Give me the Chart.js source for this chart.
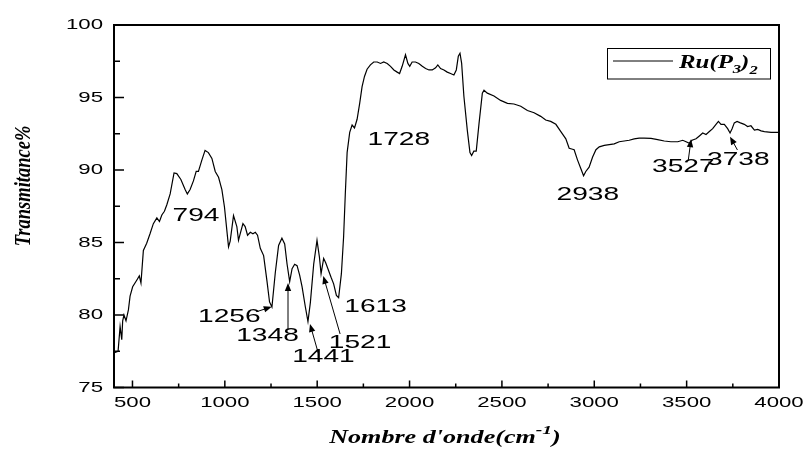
<!DOCTYPE html>
<html>
<head>
<meta charset="utf-8">
<script src="https://cdn.jsdelivr.net/npm/chart.js@4.4.0/dist/chart.umd.min.js"></script>
<style>
  html, body { margin: 0; padding: 0; background: #fff; }
  #wrap { width: 808px; height: 454px; position: relative; }
</style>
</head>
<body>
<div id="wrap"><canvas id="ir"></canvas></div>
<script>
// IR spectrum
const waveNumbers = [
  402, 422, 433, 442, 447, 454, 465, 478, 487, 501, 523, 537, 546, 559, 577, 595, 613, 632, 646, 659,
  673, 686, 704, 725, 740, 762, 785, 797, 812, 830, 845, 857, 876, 893, 911, 930, 948, 966, 984, 998,
  1020, 1029, 1047, 1065, 1074, 1083, 1098, 1110, 1123, 1138, 1152, 1165, 1177, 1192, 1210, 1228, 1242, 1255, 1273, 1291,
  1309, 1324, 1337, 1351, 1364, 1378, 1391, 1405, 1418, 1436, 1450, 1463, 1481, 1499, 1512, 1521, 1535, 1546, 1562, 1575,
  1589, 1604, 1616, 1631, 1643, 1652, 1662, 1676, 1689, 1702, 1716, 1730, 1743, 1756, 1770, 1788, 1806, 1825, 1843, 1860,
  1879, 1897, 1915, 1933, 1946, 1960, 1978, 1991, 2001, 2014, 2032, 2050, 2069, 2087, 2105, 2123, 2141, 2153, 2168, 2186,
  2204, 2222, 2240, 2253, 2264, 2273, 2282, 2294, 2313, 2327, 2336, 2348, 2361, 2376, 2394, 2403, 2421, 2457, 2493, 2530,
  2565, 2602, 2638, 2674, 2710, 2737, 2764, 2792, 2819, 2846, 2864, 2878, 2891, 2909, 2927, 2942, 2954, 2972, 2991, 3009,
  3027, 3054, 3081, 3108, 3135, 3162, 3189, 3216, 3243, 3270, 3307, 3343, 3379, 3415, 3452, 3479, 3497, 3515, 3529, 3551,
  3569, 3587, 3605, 3623, 3641, 3659, 3672, 3686, 3704, 3722, 3735, 3746, 3758, 3773, 3791, 3812, 3830, 3848, 3867, 3885,
  3903, 3921, 3957, 3993, 4000
];
const transmittance = [
  77.4, 77.5, 79.2, 78.3, 79.6, 80.0, 79.6, 80.35, 81.3, 81.95, 82.4, 82.7, 82.2, 84.45, 84.95, 85.6, 86.3, 86.7, 86.45, 86.9,
  87.15, 87.6, 88.35, 89.8, 89.75, 89.35, 88.65, 88.35, 88.65, 89.25, 89.9, 89.9, 90.7, 91.35, 91.2, 90.8, 89.9, 89.5, 88.65, 87.45,
  84.7, 85.1, 86.85, 86.1, 85.15, 85.6, 86.3, 86.1, 85.5, 85.7, 85.6, 85.7, 85.5, 84.6, 84.1, 82.35, 80.9, 80.55, 82.9, 84.8,
  85.3, 84.9, 83.5, 82.3, 83.2, 83.5, 83.4, 82.75, 81.95, 80.55, 79.55, 80.85, 83.5, 85.15, 84.0, 82.85, 83.9, 83.6, 83.05, 82.6,
  82.15, 81.35, 81.2, 82.85, 85.4, 88.3, 91.2, 92.6, 93.1, 92.9, 93.5, 94.6, 95.75, 96.45, 96.95, 97.25, 97.45, 97.45, 97.35, 97.45,
  97.35, 97.15, 96.9, 96.75, 96.65, 97.15, 97.95, 97.35, 97.15, 97.45, 97.45, 97.35, 97.15, 97.0, 96.9, 96.9, 97.05, 97.25, 97.0, 96.9,
  96.75, 96.65, 96.55, 96.9, 97.85, 98.05, 97.35, 95.1, 92.7, 91.2, 91.0, 91.3, 91.3, 93.2, 95.3, 95.5, 95.3, 95.1, 94.8, 94.6,
  94.55, 94.4, 94.1, 93.95, 93.7, 93.45, 93.35, 93.15, 92.65, 92.15, 91.5, 91.45, 91.4, 90.7, 90.1, 89.6, 89.9, 90.2, 90.9, 91.4,
  91.6, 91.7, 91.75, 91.8, 91.95, 92.0, 92.05, 92.15, 92.2, 92.2, 92.18, 92.1, 92.0, 91.95, 91.95, 92.05, 91.95, 91.85, 92.05, 92.15,
  92.35, 92.55, 92.45, 92.65, 92.85, 93.15, 93.35, 93.15, 93.15, 92.85, 92.55, 92.85, 93.25, 93.35, 93.25, 93.15, 93.0, 93.05, 92.75, 92.8,
  92.7, 92.65, 92.6, 92.6, 92.6
];

const xTicks = [500, 1000, 1500, 2000, 2500, 3000, 3500, 4000];
const xMinorTicks = [750, 1250, 1750, 2250, 2750, 3250, 3750];
const yTicks = [75, 80, 85, 90, 95, 100];
const yMinorTicks = [77.5, 82.5, 87.5, 92.5, 97.5];

// peak labels (data coords of label centre)
const peakLabels = ['794', '1256', '1348', '1441', '1521', '1613', '1728', '2938', '3527', '3738'];
const peakLabelX = [844, 1024, 1231, 1534, 1732, 1816, 1942, 2965, 3482, 3780];
const peakLabelY = [86.83, 79.9, 78.59, 77.1, 78.1, 80.6, 92.07, 88.31, 90.2, 90.7];

// arrows: tail -> head
const arrowFromX = [1173, 1342, 1506, 1624, 3509, 3775];
const arrowFromY = [80.23, 78.97, 77.36, 78.69, 90.69, 91.38];
const arrowToX = [1254, 1342, 1461, 1533, 3524, 3735];
const arrowToY = [80.57, 82.21, 79.38, 82.69, 92.12, 92.3];

const seriesName = 'Ru(P3)2';

const SX = 1.48; // the figure text is wide
const sansFont = (s) => `${s}px "Liberation Sans", Arial, sans-serif`;
const serifFont = (s) => `italic bold ${s}px "Liberation Serif", "Times New Roman", serif`;

function drawRuns(ctx, runs, x, y, sx, align) {
  ctx.save();
  ctx.textBaseline = 'alphabetic';
  ctx.textAlign = 'left';
  let total = 0;
  runs.forEach(r => { ctx.font = r.font; r.w = ctx.measureText(r.text).width; total += r.w; });
  let pos = align === 'center' ? -total / 2 : 0;
  ctx.translate(x, y);
  ctx.scale(sx, 1);
  runs.forEach(r => { ctx.font = r.font; ctx.fillText(r.text, pos, r.dy || 0); pos += r.w; });
  ctx.restore();
}

function drawWide(ctx, text, x, y, font, align, sx) {
  ctx.save();
  ctx.translate(x, y);
  ctx.scale(sx, 1);
  ctx.font = font;
  ctx.textAlign = align;
  ctx.textBaseline = 'middle';
  ctx.fillText(text, 0, 0);
  ctx.restore();
}

const frameAndText = {
  id: 'frameAndText',
  afterDraw(chart) {
    const ctx = chart.ctx;
    const xs = chart.scales.x, ys = chart.scales.y;
    const a = chart.chartArea;
    ctx.save();
    ctx.fillStyle = '#000';
    ctx.strokeStyle = '#000';

    // frame
    ctx.lineWidth = 2;
    ctx.strokeRect(a.left, a.top, a.right - a.left, a.bottom - a.top);

    // inward ticks
    ctx.lineWidth = 1.5;
    ctx.beginPath();
    xTicks.forEach(v => { const p = xs.getPixelForValue(v); ctx.moveTo(p, a.bottom); ctx.lineTo(p, a.bottom - 7); });
    xMinorTicks.forEach(v => { const p = xs.getPixelForValue(v); ctx.moveTo(p, a.bottom); ctx.lineTo(p, a.bottom - 4); });
    yTicks.forEach(v => { const p = ys.getPixelForValue(v); ctx.moveTo(a.left, p); ctx.lineTo(a.left + 10, p); });
    yMinorTicks.forEach(v => { const p = ys.getPixelForValue(v); ctx.moveTo(a.left, p); ctx.lineTo(a.left + 6, p); });
    ctx.stroke();

    // tick labels
    xTicks.forEach(v => drawWide(ctx, String(v), xs.getPixelForValue(v), a.bottom + 15, sansFont(15), 'center', SX));
    yTicks.forEach(v => drawWide(ctx, String(v), a.left - 11, ys.getPixelForValue(v), sansFont(15), 'right', SX));

    // axis titles
    drawRuns(ctx, [
      { text: "Nombre d'onde(cm", font: serifFont(18) },
      { text: '-1', font: serifFont(13.5), dy: -9 },
      { text: ')', font: serifFont(18) }
    ], 445, 443, 1.45, 'center');

    ctx.save();
    ctx.translate(24, 186);
    ctx.scale(1.2, 1);
    ctx.rotate(-Math.PI / 2);
    ctx.font = serifFont(18.5);
    ctx.textAlign = 'center';
    ctx.textBaseline = 'middle';
    ctx.fillText('Transmitance%', 0, 0);
    ctx.restore();

    // peak labels
    peakLabels.forEach((t, i) => {
      drawWide(ctx, t, xs.getPixelForValue(peakLabelX[i]), ys.getPixelForValue(peakLabelY[i]), sansFont(19), 'center', SX);
    });

    // arrows
    ctx.lineWidth = 1;
    arrowFromX.forEach((fx, i) => {
      const x0 = xs.getPixelForValue(fx), y0 = ys.getPixelForValue(arrowFromY[i]);
      const x1 = xs.getPixelForValue(arrowToX[i]), y1 = ys.getPixelForValue(arrowToY[i]);
      const ang = Math.atan2(y1 - y0, x1 - x0);
      const len = 8, half = 3.2;
      ctx.beginPath();
      ctx.moveTo(x0, y0);
      ctx.lineTo(x1 - Math.cos(ang) * len * 0.8, y1 - Math.sin(ang) * len * 0.8);
      ctx.stroke();
      ctx.beginPath();
      ctx.moveTo(x1, y1);
      ctx.lineTo(x1 - Math.cos(ang) * len - Math.sin(ang) * half, y1 - Math.sin(ang) * len + Math.cos(ang) * half);
      ctx.lineTo(x1 - Math.cos(ang) * len + Math.sin(ang) * half, y1 - Math.sin(ang) * len - Math.cos(ang) * half);
      ctx.closePath();
      ctx.fill();
    });

    // legend box
    ctx.lineWidth = 1;
    ctx.strokeRect(607.5, 48.5, 163, 30.5);
    ctx.beginPath();
    ctx.moveTo(613, 61);
    ctx.lineTo(673, 61);
    ctx.stroke();
    drawRuns(ctx, [
      { text: 'Ru(P', font: serifFont(18) },
      { text: seriesName.charAt(4), font: serifFont(12), dy: 5 },
      { text: ')', font: serifFont(18) },
      { text: seriesName.charAt(6), font: serifFont(12), dy: 6 }
    ], 679, 68, 1.38, 'left');

    ctx.restore();
  }
};

const points = waveNumbers.map((x, i) => ({ x, y: transmittance[i] }));

new Chart(document.getElementById('ir'), {
  type: 'line',
  data: {
    datasets: [{
      label: seriesName,
      data: points,
      borderColor: '#000',
      borderWidth: 1.2,
      pointRadius: 0,
      tension: 0,
      fill: false
    }]
  },
  options: {
    responsive: true,
    maintainAspectRatio: false,
    animation: false,
    layout: { padding: { left: 114, top: 25, right: 29, bottom: 66.5 } },
    plugins: { legend: { display: false }, tooltip: { enabled: false } },
    scales: {
      x: { type: 'linear', min: 400, max: 4000, display: false },
      y: { type: 'linear', min: 75, max: 100, display: false }
    }
  },
  plugins: [frameAndText]
});
</script>
</body>
</html>
